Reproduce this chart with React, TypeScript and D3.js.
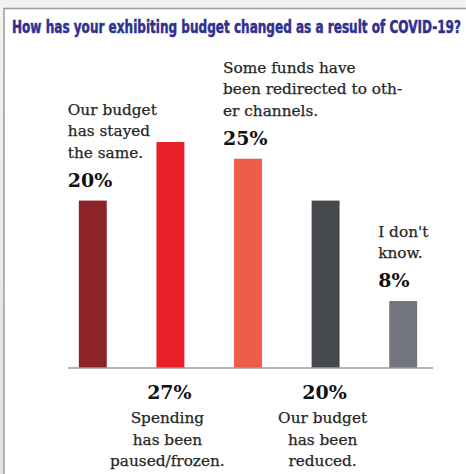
import React from "react";
import * as d3 from "d3";

const title = "How has your exhibiting budget changed as a result of COVID-19?";
const categories = ["same", "paused", "redirected", "reduced", "unknown"];
const values = [20, 27, 25, 20, 8];
const colors = ["#8c2328", "#e81f27", "#ee5d48", "#45494d", "#74767e"];
const labelLines = [
  ["Our budget", "has stayed", "the same."],
  ["Spending", "has been", "paused/frozen."],
  ["Some funds have", "been redirected to oth-", "er channels."],
  ["Our budget", "has been", "reduced."],
  ["I don't", "know."],
];
const labelPlacement = ["above", "below", "above", "below", "above"];

const W = 466;
const H = 474;

export default function App() {
  const x = d3
    .scaleBand<string>()
    .domain(categories)
    .range([54, 442])
    .paddingInner(0.64)
    .paddingOuter(0.32);
  const y = d3.scaleLinear().domain([0, 27]).range([368, 142]);
  const base = y(0);
  const bodyFont = "'DejaVu Serif', 'Liberation Serif', serif";
  const lh = 21.5;
  const bodySize = 15.3;

  return (
    <svg
      width={W}
      height={H}
      style={{ position: "absolute", left: 0, top: 0 }}
      xmlns="http://www.w3.org/2000/svg"
    >
      <defs>
        <linearGradient id="bgTop" x1="0" y1="0" x2="0" y2="1">
          <stop offset="0" stopColor="#f2f2f2" />
          <stop offset="1" stopColor="#e2e2e2" />
        </linearGradient>
      </defs>
      <rect x={0} y={0} width={W} height={H} fill="url(#bgTop)" />
      <rect x={4} y={8.5} width={W + 10} height={H + 10} fill="#ffffff" stroke="#9a9a9a" strokeWidth={1.5} />
      <text
        x={12}
        y={33}
        fontFamily="'Liberation Sans Narrow', 'DejaVu Sans Condensed', Roboto, sans-serif"
        fontWeight={700}
        fontSize={18.5}
        fill="#2d3190"
        stroke="#2d3190"
        strokeWidth={0.5}
        textLength={449}
        lengthAdjust="spacingAndGlyphs"
      >
        {title}
      </text>

      {categories.map((c, i) => (
        <rect
          key={c}
          x={x(c)}
          y={y(values[i])}
          width={x.bandwidth()}
          height={base - y(values[i])}
          fill={colors[i]}
        />
      ))}

      <line x1={68} x2={433} y1={base} y2={base} stroke="#9c9c9c" strokeWidth={1.5} />

      {categories.map((c, i) => {
        const x0 = x(c) as number;
        const top = y(values[i]);
        const lines = labelLines[i];
        if (labelPlacement[i] === "above") {
          const pctY = top - 14;
          const lastY = pctY - 29;
          const lx = x0 - 11;
          return (
            <g key={c}>
              {lines.map((t, j) => (
                <text
                  key={j}
                  x={lx}
                  y={lastY - (lines.length - 1 - j) * lh}
                  fontFamily={bodyFont}
                  fontSize={bodySize}
                  fill="#262626"
                  stroke="#262626"
                  strokeWidth={0.25}
                >
                  {t}
                </text>
              ))}
              <text x={lx} y={pctY} fontFamily={bodyFont} fontWeight={700} fontSize={19} fill="#111">
                {values[i]}%
              </text>
            </g>
          );
        }
        const cx = x0 + x.bandwidth() / 2 - 3;
        const pctY = base + 31;
        return (
          <g key={c}>
            <text x={cx + 2} y={pctY} textAnchor="middle" fontFamily={bodyFont} fontWeight={700} fontSize={19} fill="#111">
              {values[i]}%
            </text>
            {lines.map((t, j) => (
              <text
                key={j}
                x={cx}
                y={pctY + 24 + j * lh}
                textAnchor="middle"
                fontFamily={bodyFont}
                fontSize={bodySize}
                fill="#262626"
                stroke="#262626"
                strokeWidth={0.25}
              >
                {t}
              </text>
            ))}
          </g>
        );
      })}
    </svg>
  );
}
